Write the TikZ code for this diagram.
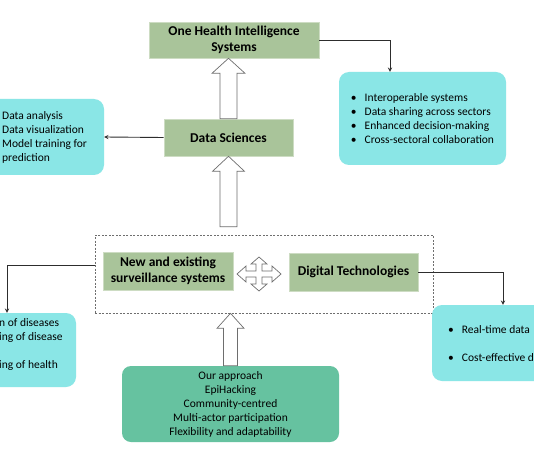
\documentclass[tikz,border=0pt]{standalone}
\usepackage{fontspec}
\setmainfont{Carlito}
\usetikzlibrary{positioning,calc}

\definecolor{sagegreen}{RGB}{169,196,154}
\definecolor{sageedge}{RGB}{205,220,195}
\definecolor{aquafill}{RGB}{138,230,230}
\definecolor{mintfill}{RGB}{102,194,160}
\definecolor{arrowgray}{RGB}{110,110,110}
\definecolor{linedark}{RGB}{45,45,45}

\tikzset{green box/.style={rectangle,fill=sagegreen,draw=sageedge,line width=0.6pt,align=center,font=\fontsize{13.5}{16}\selectfont\bfseries},
  aqua box/.style={rectangle,rounded corners=10pt,fill=aquafill},
  plain text/.style={font=\fontsize{11.5}{14}\selectfont,align=left,inner sep=0pt},
  hollow/.style={draw=arrowgray,fill=white,line width=0.7pt,line join=miter},
  link/.style={draw=linedark,line width=0.9pt,-stealth},}

% block arrow: bottom, top, shaft half width, head half width
\newcommand{\hollowup}[4]{\draw[hollow] let \p1=(#1), \p2=(#2) in
  (\x1-#3,\y1) -- (\x1-#3,\y2-15pt) -- (\x1-#4,\y2-15pt) -- (\x1,\y2)
  -- (\x1+#4,\y2-15pt) -- (\x1+#3,\y2-15pt) -- (\x1+#3,\y1) -- cycle;}

\begin{document}
\begin{tikzpicture}[x=1pt,y=-1pt]
    \useasboundingbox (0,0) rectangle (534,462);
    \clip (0,0) rectangle (534,462);
    \fill[white] (0,0) rectangle (534,462);

    \node[draw=arrowgray,dash pattern=on 2pt off 1.5pt,line width=0.6pt,minimum width=338,minimum height=78] (frame) at (264,274) {};

    \node[green box,minimum width=170,minimum height=36] (oh) at (234,40) {One Health Intelligence\\Systems};
    \node[green box,minimum width=129,minimum height=37] (ds) at (228.5,137.5) {Data Sciences};
    \node[green box,minimum width=130,minimum height=38] (nes) at (168,271) {New and existing\\surveillance systems};
    \node[green box,minimum width=129,minimum height=38] (dt) at (353.5,272) {Digital Technologies};

    \node[aqua box,minimum width=124,minimum height=76] (lt) at (42,137) {};
    \node[plain text,anchor=west] (lttext) at (2,137) {Data analysis\\Data visualization\\Model training for\\prediction};

    \node[aqua box,plain text,minimum width=167,minimum height=93] (rt) at (422.5,118.5)
      {\textbullet\hspace{8pt}Interoperable systems\\\textbullet\hspace{8pt}Data sharing across sectors\\\textbullet\hspace{8pt}Enhanced decision-making\\\textbullet\hspace{8pt}Cross-sectoral collaboration};

    \node[aqua box,minimum width=96,minimum height=74] (lb) at (28,350) {};
    \node[plain text,anchor=west] (lbtext) at (-1,344) {n of diseases\\ing of disease\\[14pt]ing of health};

    \node[aqua box,minimum width=128,minimum height=76] (rb) at (496,343) {};
    \node[plain text,anchor=west] (rbtext) at (448,344) {\textbullet\hspace{8pt}Real-time data\\[14pt]\textbullet\hspace{8pt}Cost-effective d};

    \node[rectangle,rounded corners=9pt,fill=mintfill,minimum width=217,minimum height=76,plain text,align=center] (approach) at (230.5,404)
      {Our approach\\EpiHacking\\Community-centred\\Multi-actor participation\\Flexibility and adaptability};

    % hollow arrows
    \hollowup{ds.north}{oh.south}{8.5pt}{16.5pt}
    \hollowup{$(ds.south |- frame.north)+(0,-8)$}{ds.south}{8.5pt}{16pt}
    \hollowup{approach.north}{approach.north |- frame.south}{7pt}{13.5pt}

    \coordinate (cross) at (259,274);
    \draw[hollow,shift={(cross)}] (-22,0) -- (-13,-8) -- (-13,-3) -- (-3,-3) -- (-3,-10) -- (-8,-10) -- (0,-17)
      -- (8,-10) -- (3,-10) -- (3,-3) -- (13,-3) -- (13,-8) -- (22,0) -- (13,8) -- (13,3) -- (3,3)
      -- (3,10) -- (8,10) -- (0,17) -- (-8,10) -- (-3,10) -- (-3,3) -- (-13,3) -- (-13,8) -- cycle;

    % connectors
    \draw[link] (oh.east) -| ([xshift=-32.5]rt.north);
    \draw[link] (ds.west) -- (lt.east);
    \draw[link] ([yshift=9]frame.west) -| ([xshift=-21]lb.north);
    \draw[link] (dt.east) -| ([xshift=7]rb.north);
\end{tikzpicture}
\end{document}
